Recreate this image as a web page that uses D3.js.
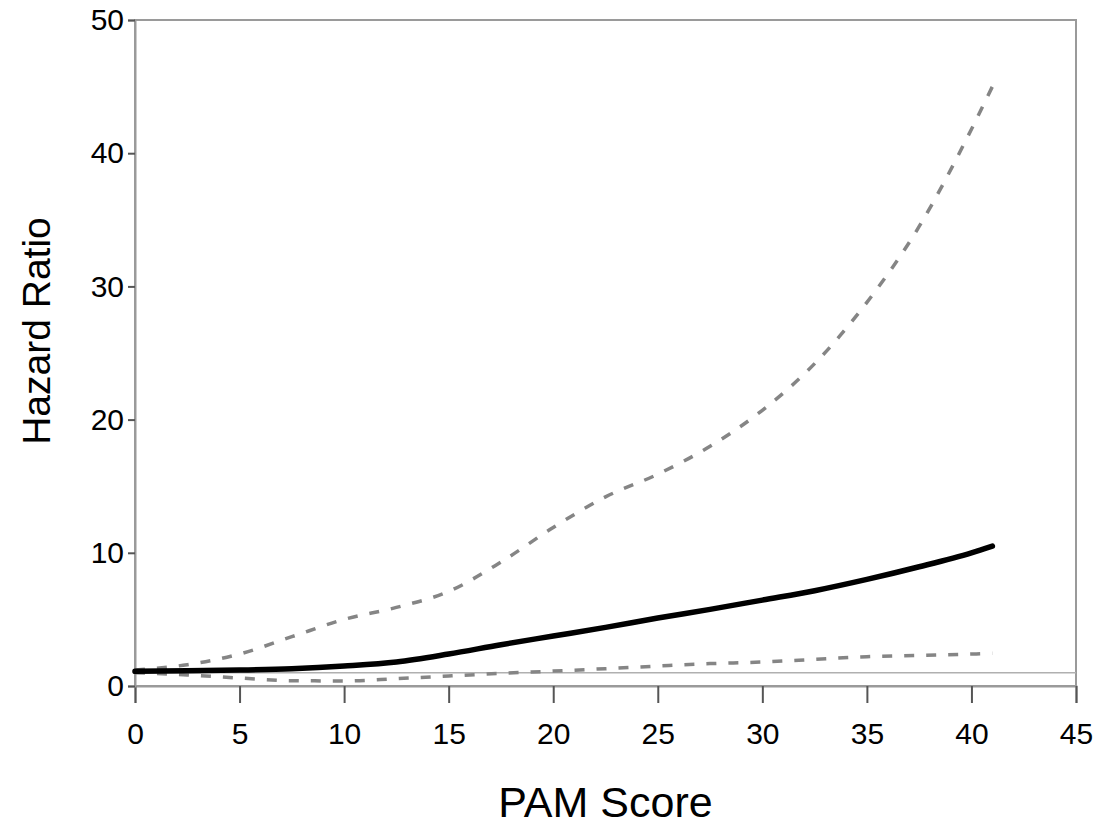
<html>
<script src='https://d3js.org/d3.v7.min.js'></script>
<style>
  body { margin: 0; background: white; }
  text { font-family: 'Liberation Sans', Arial, sans-serif; fill: black; }
</style>
<body onload='render()'>
<svg width=1105 height=825></svg>

<script>
// PAM score values where the curves were read
var pam = [0, 2.5, 5, 7.5, 10, 12.5, 15, 17.5, 20, 22.5, 25, 27.5, 30, 32.5, 35, 37.5, 40, 41];
// hazard ratio estimate
var hr = [1.1, 1.15, 1.2, 1.3, 1.5, 1.8, 2.4, 3.1, 3.75, 4.4, 5.1, 5.75, 6.45, 7.15, 8.0, 8.95, 10.0, 10.5];
// upper and lower confidence limits
var upper = [1.2, 1.6, 2.4, 3.7, 5.0, 5.9, 7.1, 9.3, 11.9, 14.2, 15.9, 18.0, 20.7, 24.2, 28.8, 34.5, 41.8, 45.0];
var lower = [1.0, 0.83, 0.6, 0.4, 0.38, 0.55, 0.75, 0.95, 1.12, 1.3, 1.5, 1.68, 1.8, 2.0, 2.2, 2.3, 2.4, 2.45];

var xTicks = [0, 5, 10, 15, 20, 25, 30, 35, 40, 45];
var yTicks = [0, 10, 20, 30, 40, 50];
var refValue = 1;

function render() {
  var svg = d3.select("svg");

  var left = 135, right = 1076, top = 20, bottom = 686;

  var x = d3.scaleLinear()
    .domain([0, 45])
    .range([left, right]);

  var y = d3.scaleLinear()
    .domain([0, 50])
    .range([bottom, top]);

  // frame
  svg.append("rect")
    .attr("x", left)
    .attr("y", top)
    .attr("width", right - left)
    .attr("height", bottom - top)
    .attr("fill", "none")
    .attr("stroke", "#9a9a9a")
    .attr("stroke-width", 2);

  // reference line at HR = 1
  svg.append("line")
    .attr("x1", left)
    .attr("x2", right)
    .attr("y1", y(refValue))
    .attr("y2", y(refValue))
    .attr("stroke", "#b0b0b0")
    .attr("stroke-width", 1.5);

  // axes
  var xAxis = svg.append("g")
    .attr("transform", "translate(0," + bottom + ")")
    .call(d3.axisBottom(x).tickValues(xTicks).tickSize(17).tickPadding(20).tickFormat(d3.format("d")));

  var yAxis = svg.append("g")
    .attr("transform", "translate(" + left + ",0)")
    .call(d3.axisLeft(y).tickValues(yTicks).tickSize(7).tickPadding(4).tickFormat(d3.format("d")));

  [xAxis, yAxis].forEach(function(ax) {
    ax.select(".domain").attr("stroke", "#9a9a9a").attr("stroke-width", 2);
    ax.selectAll(".tick line").attr("stroke", "#555").attr("stroke-width", 2);
    ax.selectAll(".tick text")
      .style("font-family", "'Liberation Sans', Arial, sans-serif")
      .style("font-size", "30px")
      .attr("fill", "black");
  });

  var rows = pam.map(function(p, i) {
    return {pam: p, hr: hr[i], upper: upper[i], lower: lower[i]};
  });

  function lineFor(key) {
    return d3.line()
      .x(function(d) { return x(d.pam); })
      .y(function(d) { return y(d[key]); })
      .curve(d3.curveMonotoneX);
  }

  ["upper", "lower"].forEach(function(key) {
    svg.append("path")
      .datum(rows)
      .attr("d", lineFor(key))
      .attr("fill", "none")
      .attr("stroke", "#858585")
      .attr("stroke-width", 3.5)
      .attr("stroke-dasharray", "10,12");
  });

  svg.append("path")
    .datum(rows)
    .attr("d", lineFor("hr"))
    .attr("fill", "none")
    .attr("stroke", "black")
    .attr("stroke-width", 5.5)
    .attr("stroke-linecap", "round");

  // axis titles
  svg.append("text")
    .attr("x", (left + right) / 2)
    .attr("y", 817)
    .style("text-anchor", "middle")
    .style("font-size", "43px")
    .text("PAM Score");

  svg.append("text")
    .attr("transform", "translate(50,331) rotate(-90)")
    .style("text-anchor", "middle")
    .style("font-size", "39px")
    .text("Hazard Ratio");
}
</script>
</body>
</html>
